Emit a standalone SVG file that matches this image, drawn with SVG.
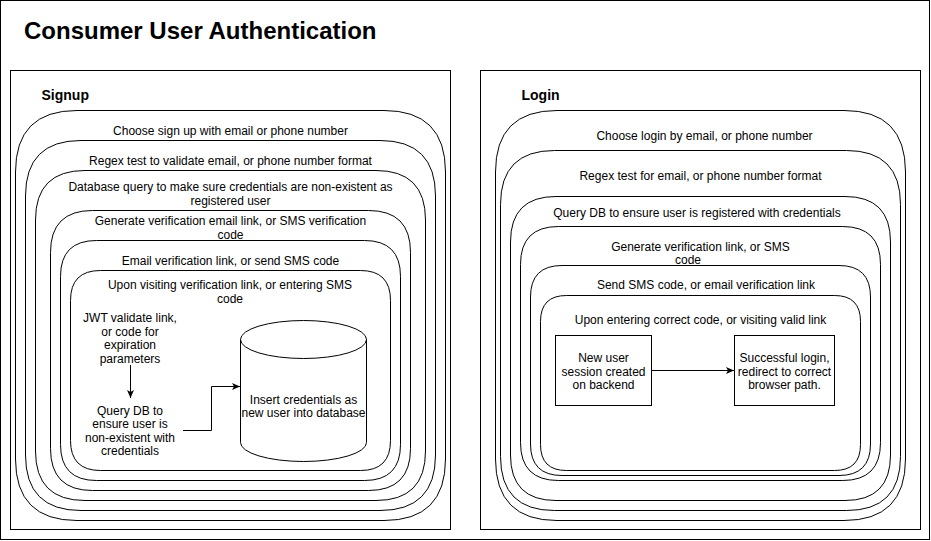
<svg xmlns="http://www.w3.org/2000/svg" width="931" height="541" viewBox="0 0 931 541">
<style>
.f{fill:#fff;stroke:#000;stroke-width:1}
.t{font-family:"Liberation Sans",Arial,Helvetica,sans-serif;font-size:12px;fill:#000;text-anchor:middle}
.h{font-family:"Liberation Sans",Arial,Helvetica,sans-serif;font-weight:bold;fill:#000}
.c{fill:none;stroke:#000;stroke-width:1}
</style>
<defs>
<marker id="arr" viewBox="0 0 8 8" refX="8" refY="4" markerWidth="8" markerHeight="8" markerUnits="userSpaceOnUse" orient="auto">
<path d="M0,0.5 L8,4 L0,7.5 L2,4 Z" fill="#000"/>
</marker>
</defs>
<rect x="0" y="0" width="931" height="541" fill="#fff"/>
<g id="page">
<rect class="f" x="0.5" y="0.5" width="929" height="539"/>
<text class="h" x="24" y="39" font-size="24">Consumer User Authentication</text>
</g>
<g id="signup">
<rect class="f" x="10.5" y="70.5" width="440" height="459"/>
<text class="h" x="41.5" y="99.5" font-size="14">Signup</text>
</g>
<g id="s1">
<path class="f" d="M77,110.5 L384,110.5 Q445.5,110.5 445.5,172 L445.5,459 Q445.5,520.5 384,520.5 L77,520.5 Q15.5,520.5 15.5,459 L15.5,172 Q15.5,110.5 77,110.5 Z"/>
<text class="t" x="230.5" y="134.5">Choose sign up with email or phone number</text>
</g>
<g id="s2">
<path class="f" d="M81,140.5 L380,140.5 Q435.5,140.5 435.5,196 L435.5,455 Q435.5,510.5 380,510.5 L81,510.5 Q25.5,510.5 25.5,455 L25.5,196 Q25.5,140.5 81,140.5 Z"/>
<text class="t" x="230.5" y="165">Regex test to validate email, or phone number format</text>
</g>
<g id="s3">
<path class="f" d="M85,170.5 L376,170.5 Q425.5,170.5 425.5,220 L425.5,451 Q425.5,500.5 376,500.5 L85,500.5 Q35.5,500.5 35.5,451 L35.5,220 Q35.5,170.5 85,170.5 Z"/>
<text class="t" x="230.5" y="191">Database query to make sure credentials are non-existent as</text>
<text class="t" x="230.5" y="204.5">registered user</text>
</g>
<g id="s4">
<path class="f" d="M92.5,210.5 L368.5,210.5 Q410.5,210.5 410.5,252.5 L410.5,448.5 Q410.5,490.5 368.5,490.5 L92.5,490.5 Q50.5,490.5 50.5,448.5 L50.5,252.5 Q50.5,210.5 92.5,210.5 Z"/>
<text class="t" x="230.5" y="225">Generate verification email link, or SMS verification</text>
<text class="t" x="230.5" y="238.5">code</text>
</g>
<g id="s5">
<path class="f" d="M96.5,240.5 L364.5,240.5 Q400.5,240.5 400.5,276.5 L400.5,444.5 Q400.5,480.5 364.5,480.5 L96.5,480.5 Q60.5,480.5 60.5,444.5 L60.5,276.5 Q60.5,240.5 96.5,240.5 Z"/>
<text class="t" x="230.5" y="264.5">Email verification link, or send SMS code</text>
</g>
<g id="s6">
<path class="f" d="M100.5,270.5 L360.5,270.5 Q390.5,270.5 390.5,300.5 L390.5,440.5 Q390.5,470.5 360.5,470.5 L100.5,470.5 Q70.5,470.5 70.5,440.5 L70.5,300.5 Q70.5,270.5 100.5,270.5 Z"/>
<text class="t" x="230" y="289">Upon visiting verification link, or entering SMS</text>
<text class="t" x="230" y="302.5">code</text>
</g>
<g id="jwt">
<text class="t" x="130" y="322">JWT validate link,</text>
<text class="t" x="130" y="335.5">or code for</text>
<text class="t" x="130" y="349">expiration</text>
<text class="t" x="130" y="362.5">parameters</text>
</g>
<g id="querydb">
<text class="t" x="130" y="414.5">Query DB to</text>
<text class="t" x="130" y="428">ensure user is</text>
<text class="t" x="130" y="441.5">non-existent with</text>
<text class="t" x="130" y="455">credentials</text>
</g>
<g id="database">
<path class="f" d="M240.5,339.5 A63,19 0 0 1 303.5,320.5 A63,19 0 0 1 366.5,339.5 L366.5,442.5 A63,19 0 0 1 303.5,461.5 A63,19 0 0 1 240.5,442.5 Z"/>
<path class="c" d="M366.5,339.5 A63,19 0 0 1 303.5,358.5 A63,19 0 0 1 240.5,339.5"/>
<text class="t" x="303.5" y="403.5">Insert credentials as</text>
<text class="t" x="303.5" y="417">new user into database</text>
</g>
<g id="login">
<rect class="f" x="480.5" y="70.5" width="440" height="459"/>
<text class="h" x="521.5" y="99.5" font-size="14">Login</text>
</g>
<g id="l1">
<path class="f" d="M557,110.5 L844,110.5 Q905.5,110.5 905.5,172 L905.5,459 Q905.5,520.5 844,520.5 L557,520.5 Q495.5,520.5 495.5,459 L495.5,172 Q495.5,110.5 557,110.5 Z"/>
<text class="t" x="704.5" y="140">Choose login by email, or phone number</text>
</g>
<g id="l2">
<path class="f" d="M554.5,150.5 L846.5,150.5 Q900.5,150.5 900.5,204.5 L900.5,456.5 Q900.5,510.5 846.5,510.5 L554.5,510.5 Q500.5,510.5 500.5,456.5 L500.5,204.5 Q500.5,150.5 554.5,150.5 Z"/>
<text class="t" x="700.5" y="179.5">Regex test for email, or phone number format</text>
</g>
<g id="l3">
<path class="f" d="M556,196.5 L845,196.5 Q890.5,196.5 890.5,242 L890.5,455 Q890.5,500.5 845,500.5 L556,500.5 Q510.5,500.5 510.5,455 L510.5,242 Q510.5,196.5 556,196.5 Z"/>
<text class="t" x="697" y="217">Query DB to ensure user is registered with credentials</text>
</g>
<g id="l4">
<path class="f" d="M558.5,226.5 L842.5,226.5 Q880.5,226.5 880.5,264.5 L880.5,442.5 Q880.5,480.5 842.5,480.5 L558.5,480.5 Q520.5,480.5 520.5,442.5 L520.5,264.5 Q520.5,226.5 558.5,226.5 Z"/>
<text class="t" x="700.5" y="250.5">Generate verification link, or SMS</text>
<text class="t" x="688" y="264">code</text>
</g>
<g id="l5">
<path class="f" d="M562,265.5 L839,265.5 Q870.5,265.5 870.5,297 L870.5,444 Q870.5,475.5 839,475.5 L562,475.5 Q530.5,475.5 530.5,444 L530.5,297 Q530.5,265.5 562,265.5 Z"/>
<text class="t" x="706" y="289">Send SMS code, or email verification link</text>
</g>
<g id="l6">
<path class="f" d="M566.5,295.5 L834.5,295.5 Q860.5,295.5 860.5,321.5 L860.5,444.5 Q860.5,470.5 834.5,470.5 L566.5,470.5 Q540.5,470.5 540.5,444.5 L540.5,321.5 Q540.5,295.5 566.5,295.5 Z"/>
<text class="t" x="700.5" y="324">Upon entering correct code, or visiting valid link</text>
</g>
<g id="session">
<rect class="f" x="555.5" y="335.5" width="96" height="70"/>
<text class="t" x="603.5" y="362">New user</text>
<text class="t" x="603.5" y="375.5">session created</text>
<text class="t" x="603.5" y="389">on backend</text>
</g>
<g id="success">
<rect class="f" x="734.5" y="335.5" width="100" height="70"/>
<text class="t" x="784.5" y="362">Successful login,</text>
<text class="t" x="784.5" y="375.5">redirect to correct</text>
<text class="t" x="784.5" y="389">browser path.</text>
</g>
<g id="connectors">
<path class="c" d="M130.5,365 L130.5,398" marker-end="url(#arr)"/>
<path class="c" d="M183,430.5 L211.5,430.5 L211.5,386.5 L240,386.5" marker-end="url(#arr)"/>
<path class="c" d="M651.5,370.5 L734,370.5" marker-end="url(#arr)"/>
</g>
</svg>
